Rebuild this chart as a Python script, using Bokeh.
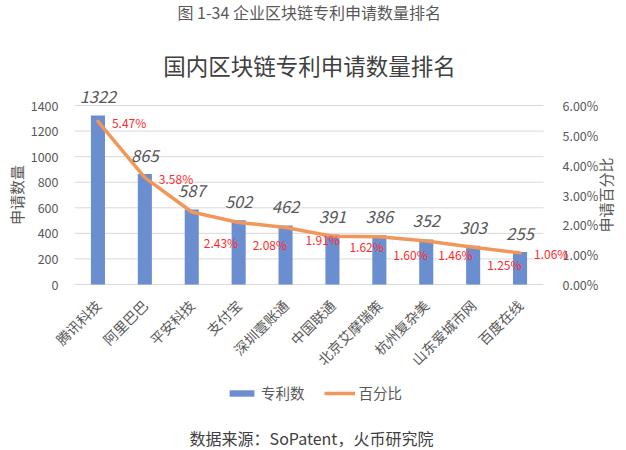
import math
from bokeh.plotting import figure
from bokeh.layouts import column
from bokeh.core.properties import value
from bokeh.models import (ColumnDataSource, Range1d, LinearAxis, FixedTicker, Label,
                          NumeralTickFormatter, LabelSet, Legend, LegendItem)
from bokeh.embed import file_html
from bokeh.resources import INLINE

# ---- data ----
companies = ["腾讯科技", "阿里巴巴", "平安科技", "支付宝", "深圳壹账通",
             "中国联通", "北京艾摩瑞策", "杭州复杂美", "山东爱城市网", "百度在线"]
patents = [1322, 865, 587, 502, 462, 391, 386, 352, 303, 255]
share_pct = [5.47, 3.58, 2.43, 2.08, 1.91, 1.62, 1.60, 1.46, 1.25, 1.06]
left_ticks = [0, 200, 400, 600, 800, 1000, 1200, 1400]
right_ticks = [0.00, 0.01, 0.02, 0.03, 0.04, 0.05, 0.06]

caption = "图 1-34  企业区块链专利申请数量排名"
chart_title = "国内区块链专利申请数量排名"
source_note = "数据来源：SoPatent，火币研究院"
legend_labels = ["专利数", "百分比"]
y_title = "申请数量"
y2_title = "申请百分比"

# label offsets (pixels) for the percentage labels
pct_dx = [14, 14, 12, 14, 20, 17, 14, 12, 14, 14]
pct_dy = [1, 1, 30, 22, 12, 10, 18, 14, 17, 1]

FONT = "Noto Sans CJK SC"
GREY = "#595959"
DARK = "#404040"
BAR = "#6B8ED1"
LINE = "#F1975A"

idx = list(range(len(companies)))
src = ColumnDataSource(dict(
    x=idx,
    cnt=patents,
    cnt_txt=[str(v) for v in patents],
    pct=[v / 100 for v in share_pct],
    pct_txt=["%.2f%%" % v for v in share_pct],
    dx=pct_dx,
    dy=[-d for d in pct_dy],
))

# ---- layout geometry (page pixels) ----
W = 626
top_h, mid_h, bot_h = 84, 296, 70          # three stacked strips
frame_left, frame_right = 74, 620
zero_px, top_tick_px = 284, 105            # where 0 and 1400 sit on the page
frame_top_px, frame_bot_px = 84, 305       # plot frame of the middle strip
cat_right_px = 543                         # right end of the category area
ppu = (zero_px - top_tick_px) / left_ticks[-1]
y_lo = -(frame_bot_px - zero_px) / ppu
y_hi = (zero_px - frame_top_px) / ppu
x_lo, x_hi = -0.5, len(companies) - 0.5
cat_px = (cat_right_px - frame_left) / (x_hi - x_lo)
x_end = x_lo + (frame_right - frame_left) / cat_px
k = right_ticks[-1] / left_ticks[-1]


def strip(h):
    f = figure(width=W, height=h, x_range=Range1d(0, 1), y_range=Range1d(0, 1),
               output_backend="svg", toolbar_location=None, x_axis_type=None,
               y_axis_type=None, min_border_left=frame_left, min_border_right=W - frame_right,
               min_border_top=0, min_border_bottom=0)
    f.outline_line_color = None
    f.xgrid.grid_line_color = None
    f.ygrid.grid_line_color = None
    return f


# ---- top strip: caption and chart title ----
t = strip(top_h)
t.add_layout(Label(x=310.5 - frame_left, y=top_h - 11, x_units="screen", y_units="screen",
                   text=caption, text_align="center", text_baseline="middle",
                   text_font=FONT, text_font_size="16px", text_color=GREY))
t.add_layout(Label(x=309 - frame_left, y=top_h - 64, x_units="screen", y_units="screen",
                   text=chart_title, text_align="center", text_baseline="middle",
                   text_font=FONT, text_font_size="22.5px", text_color=DARK))

# ---- middle strip: the chart ----
p = figure(width=W, height=mid_h, x_range=Range1d(x_lo, x_end),
           y_range=Range1d(y_lo, y_hi), output_backend="svg", toolbar_location=None,
           min_border_left=frame_left, min_border_right=W - frame_right,
           min_border_top=0, min_border_bottom=mid_h - (frame_bot_px - frame_top_px))
p.outline_line_color = None
p.xgrid.grid_line_color = None
p.ygrid.grid_line_color = None
p.extra_y_ranges = {"pct": Range1d(y_lo * k, y_hi * k)}

# horizontal gridlines (incl. the category baseline) spanning the category area
p.segment(x0=[x_lo] * len(left_ticks), x1=[x_hi] * len(left_ticks),
          y0=left_ticks, y1=left_ticks, line_color="#D9D9D9", line_width=1)

bars = p.vbar(x="x", top="cnt", width=0.3, source=src, fill_color=BAR, line_color=None)
line = p.line(x="x", y="pct", source=src, y_range_name="pct", line_color=LINE,
              line_width=3.5, line_cap="round", line_join="round")

xa = p.xaxis[0]
xa.ticker = FixedTicker(ticks=idx)
xa.major_label_overrides = {i: c for i, c in zip(idx, companies)}
xa.major_label_orientation = math.pi / 4
xa.major_label_text_font = FONT
xa.major_label_text_font_size = "14px"
xa.major_label_text_color = GREY
xa.major_tick_line_color = None
xa.minor_tick_line_color = None
xa.axis_line_color = None
xa.major_label_standoff = -9

ya = p.yaxis[0]
ya.ticker = FixedTicker(ticks=left_ticks)
ya.axis_line_color = None
ya.major_tick_line_color = None
ya.minor_tick_line_color = None
ya.major_label_text_font = FONT
ya.major_label_text_font_size = "12.5px"
ya.major_label_text_color = GREY
ya.major_label_standoff = 10
ya.axis_label = y_title
ya.axis_label_text_font = FONT
ya.axis_label_text_font_size = "15px"
ya.axis_label_text_font_style = "normal"
ya.axis_label_text_color = GREY
ya.axis_label_standoff = 1

# right axis: tick labels just right of the category area
ra = LinearAxis(y_range_name="pct", ticker=FixedTicker(ticks=right_ticks),
                formatter=NumeralTickFormatter(format="0.00%"))
ra.axis_line_color = None
ra.major_tick_line_color = None
ra.minor_tick_line_color = None
ra.major_label_text_font = FONT
ra.major_label_text_font_size = "12.5px"
ra.major_label_text_color = GREY
ra.major_label_standoff = 556 - frame_right
p.add_layout(ra, "right")
# right axis title, reading bottom-to-top, centred on the value span
p.add_layout(Label(x=605 - frame_left, y=frame_bot_px - (zero_px + top_tick_px) / 2,
                   x_units="screen", y_units="screen", text=y2_title, angle=math.pi / 2,
                   text_align="center", text_baseline="middle", text_font=FONT,
                   text_font_size="15px", text_color=GREY))

p.add_layout(LabelSet(x="x", y="cnt", text="cnt_txt", source=src, y_offset=12,
                      text_align="center", text_baseline="bottom", text_font=value(FONT),
                      text_font_size="16.5px", text_font_style="italic", text_color=GREY))
p.add_layout(LabelSet(x="x", y="pct", y_range_name="pct", text="pct_txt", source=src,
                      x_offset="dx", y_offset="dy", text_align="left", text_baseline="middle",
                      text_font=value(FONT), text_font_size="12px", text_color="#FF2B2B"))

# ---- bottom strip: legend and source note ----
q = strip(bot_h)
nan = float("nan")
key_bar = q.vbar(x=[nan], top=[nan], width=1, fill_color=BAR, line_color=None)
key_line = q.line(x=[nan, nan], y=[nan, nan], line_color=LINE, line_width=3.5)
legend = Legend(items=[LegendItem(label=legend_labels[0], renderers=[key_bar]),
                       LegendItem(label=legend_labels[1], renderers=[key_line])],
                location=(226 - frame_left, 47), orientation="horizontal",
                glyph_width=31, glyph_height=8, label_height=16, label_standoff=4,
                spacing=19, padding=0, margin=0, border_line_color=None,
                background_fill_alpha=0, label_text_font=FONT,
                label_text_font_size="14.5px", label_text_color=GREY)
q.add_layout(legend, "center")
q.add_layout(Label(x=311 - frame_left, y=13, x_units="screen", y_units="screen",
                   text=source_note, text_align="center", text_baseline="middle",
                   text_font=FONT, text_font_size="16px", text_color=DARK))

open("out.html", "w").write(file_html(column(t, p, q), INLINE))
